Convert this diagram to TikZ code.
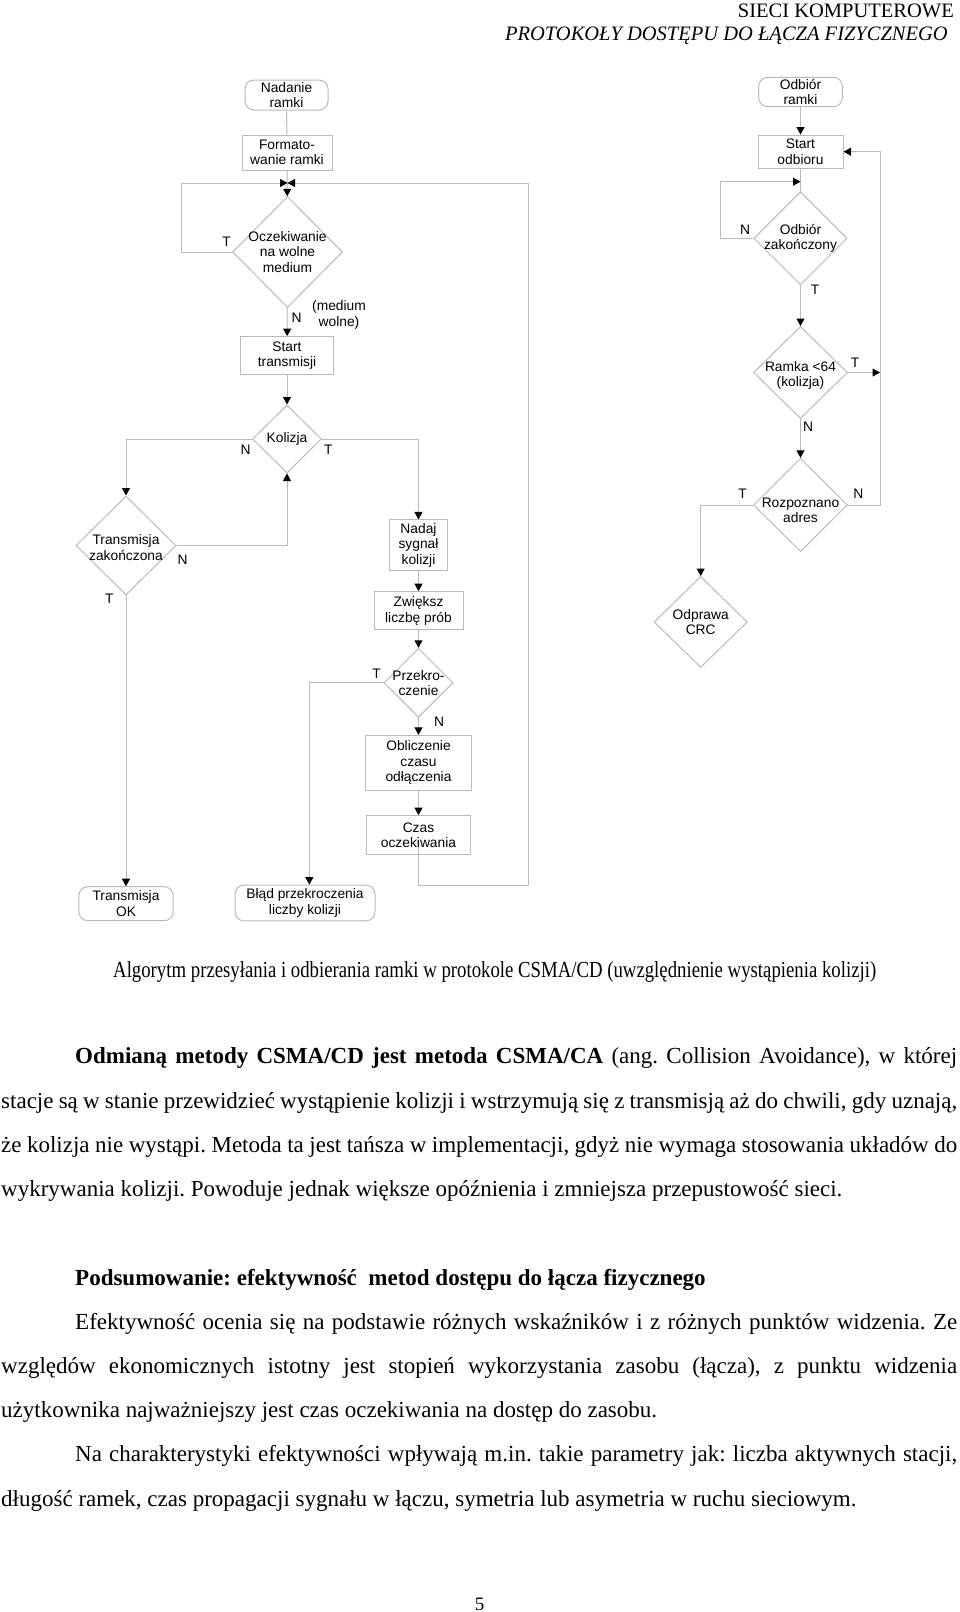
\documentclass[tikz,border=0pt]{standalone}
\usepackage{fontspec}
\usepackage{graphicx}
\setmainfont{Liberation Serif}
\newfontfamily\flowfont{Liberation Sans}
\usetikzlibrary{shapes.geometric,arrows.meta}
\definecolor{lgray}{RGB}{185,185,185}
\frenchspacing
\newcommand\flowtxt{\flowfont\fontsize{13.8}{15.3}\selectfont}
\newcommand\bodytxt{\fontsize{23}{27}\selectfont}
\newsavebox\fitbx
\newcommand\fitw[2]{\sbox\fitbx{#2}\pgfmathsetmacro\fitsc{#1/\the\wd\fitbx}\scalebox{\fitsc}[1]{\usebox\fitbx}}
\tikzset{
  line/.style={draw=lgray, line width=1pt},
  arr/.style={line, -{Triangle[length=7.5pt,width=8pt,color=black]}},
  proc/.style={draw=lgray, line width=1pt, rectangle, inner sep=0pt, font=\flowtxt, align=center},
  term/.style={proc, rounded corners=9pt},
  dec/.style={draw=lgray, line width=1pt, diamond, inner sep=0pt},
  ftxt/.style={font=\flowtxt, align=center, inner sep=0pt},
  lab/.style={font=\flowtxt, inner sep=0pt},
  body/.style={anchor=base west, inner sep=0pt, font=\bodytxt},
}
\begin{document}
\begin{tikzpicture}[x=1pt,y=-1pt]
\useasboundingbox (0,0) rectangle (960,1612);

% header
\node[anchor=base east, inner sep=0pt, font=\fontsize{20.5}{24}\selectfont] (h1) at (954,17.5) {SIECI KOMPUTEROWE};
\node[anchor=base east, inner sep=0pt, font=\fontsize{20.5}{24}\selectfont\itshape] (h2) at (948,40) {PROTOKOŁY DOSTĘPU DO ŁĄCZA FIZYCZNEGO};

% ---------------- sending side ----------------
\node[term, minimum width=83pt, minimum height=30pt] (nad) at (286.5,95) {Nadanie\\ramki};
\node[proc, minimum width=90pt, minimum height=35pt] (form) at (287,152.5) {Formato-\\wanie ramki};
\node[dec, minimum width=110pt, minimum height=111pt] (wait) at (287.5,252) {};
\node[ftxt] (waitT) at (wait) {Oczekiwanie\\na wolne\\medium};
\node[proc, minimum width=92.7pt, minimum height=38.3pt] (start) at (287,355.8) {Start\\transmisji};
\node[dec, minimum width=69pt, minimum height=68pt] (kol) at (287,439) {};
\node[ftxt] (kolT) at (kol) {Kolizja};
\node[dec, minimum width=100pt, minimum height=99pt] (tz) at (126,545.5) {};
\node[ftxt] (tzT) at (126,547.5) {Transmisja\\zakończona};
\node[term, minimum width=94.4pt, minimum height=34pt] (ok) at (126,903.7) {Transmisja\\OK};
\node[proc, minimum width=58.4pt, minimum height=50.7pt] (nadaj) at (418.5,545.3) {Nadaj\\sygnał\\kolizji};
\node[proc, minimum width=89pt, minimum height=38.3pt] (zwi) at (418.5,610.8) {Zwiększ\\liczbę prób};
\node[dec, minimum width=69pt, minimum height=69pt] (prz) at (418.5,682.8) {};
\node[ftxt] (przT) at (prz) {Przekro-\\czenie};
\node[proc, minimum width=106.4pt, minimum height=54.7pt] (obl) at (418.5,762.7) {Obliczenie\\czasu\\odłączenia};
\node[proc, minimum width=104.4pt, minimum height=39.3pt] (czas) at (418.5,835.3) {Czas\\oczekiwania};
\node[term, minimum width=140pt, minimum height=35.7pt] (blad) at (305,903) {Błąd przekroczenia\\liczby kolizji};

\coordinate (j1) at (287.5,183);
\coordinate (lc1) at (181.7,183);
\coordinate (rc1) at (528.7,183);

\draw[line] (nad) -- (form);
\draw[arr] (form) -- (wait);
\draw[arr] (wait.west) -| (lc1) -- (j1);
\draw[arr] ([yshift=8pt]czas.south) -- ++(0,38.4) -| (rc1) -- (j1);
\draw[arr] (wait) -- (start);
\draw[arr] (start) -- (kol);
\draw[arr] (kol.west) -| (tz.north);
\draw[arr] (tz.east) -| (kol.south);
\draw[arr] (tz.south) -- (ok.north);
\draw[arr] (kol.east) -| (nadaj.north);
\draw[arr] (nadaj) -- (zwi);
\draw[arr] (zwi) -- (prz);
\draw[arr] (prz.west) -| ([xshift=4.3pt]blad.north);
\draw[arr] (prz) -- (obl);
\draw[arr] (obl) -- (czas);

\node[lab] (l1) at (226.7,241.7) {T};
\node[lab] (l2) at (296.7,318) {N};
\node[ftxt] (l3) at (339,315) {(medium\\wolne)};
\node[lab] (l4) at (245.7,450) {N};
\node[lab] (l5) at (328.3,450) {T};
\node[lab] (l6) at (182.7,560) {N};
\node[lab] (l7) at (109.3,598.3) {T};
\node[lab] (l8) at (376.7,673.3) {T};
\node[lab] (l9) at (439,721.7) {N};

% ---------------- receiving side ----------------
\node[term, minimum width=83.7pt, minimum height=29.4pt] (odb) at (800.5,92) {Odbiór\\ramki};
\node[proc, minimum width=85pt, minimum height=33.3pt] (sodb) at (800.5,151.7) {Start\\odbioru};
\node[dec, minimum width=93.3pt, minimum height=93.3pt] (zak) at (800.5,238.3) {};
\node[ftxt] (zakT) at (zak) {Odbiór\\zakończony};
\node[dec, minimum width=94pt, minimum height=92pt] (ram) at (800.5,372.5) {};
\node[ftxt] (ramT) at (800.5,375.5) {Ramka <64\\(kolizja)};
\node[dec, minimum width=94pt, minimum height=93.4pt] (roz) at (800.5,505) {};
\node[ftxt] (rozT) at (800.5,510) {Rozpoznano\\adres};
\node[dec, minimum width=93.3pt, minimum height=91pt] (crc) at (700.7,622) {};
\node[ftxt] (crcT) at (crc) {Odprawa\\CRC};

\coordinate (j2) at (800.5,181.7);
\coordinate (lc2) at (720.7,181.7);
\coordinate (rc2) at (880,151.7);

\draw[arr] (odb) -- (sodb);
\draw[line] (sodb) -- (zak);
\draw[arr] (zak.west) -| (lc2) -- (j2);
\draw[arr] (zak) -- (ram);
\draw[arr] (ram.east) -- (ram.east -| rc2);
\draw[arr] (roz.east) -| (rc2) -- (sodb.east);
\draw[arr] (ram) -- (roz);
\draw[arr] (roz.west) -| (crc.north);

\node[lab] (r1) at (745,230) {N};
\node[lab] (r2) at (815,290) {T};
\node[lab] (r3) at (855,363) {T};
\node[lab] (r4) at (808,426.7) {N};
\node[lab] (r5) at (742.7,493.3) {T};
\node[lab] (r6) at (858.3,493.3) {N};

% ---------------- caption and text ----------------
\node[body] (cap) at (113,977) {\fitw{763}{Algorytm przesyłania i odbierania ramki w protokole CSMA/CD (uwzględnienie wystąpienia kolizji)}};

\node[body] (p1) at (75,1063.3) {\makebox[882pt][s]{\textbf{Odmianą metody CSMA/CD jest metoda CSMA/CA} (ang. Collision Avoidance), w której}};
\node[body] (p2) at (1,1108.5) {\makebox[956pt][s]{stacje są w stanie przewidzieć wystąpienie kolizji i wstrzymują się z transmisją aż do chwili, gdy uznają,}};
\node[body] (p3) at (1,1152.5) {\makebox[956pt][s]{że kolizja nie wystąpi. Metoda ta jest tańsza w implementacji, gdyż nie wymaga stosowania układów do}};
\node[body] (p4) at (1,1196.5) {wykrywania kolizji. Powoduje jednak większe opóźnienia i zmniejsza przepustowość sieci.};

\node[body] (q0) at (75,1285) {\textbf{Podsumowanie: efektywność\ \ metod dostępu do łącza fizycznego}};
\node[body] (q1) at (75,1329) {\makebox[882pt][s]{Efektywność ocenia się na podstawie różnych wskaźników i z różnych punktów widzenia. Ze}};
\node[body] (q2) at (1,1373.5) {\makebox[956pt][s]{względów ekonomicznych istotny jest stopień wykorzystania zasobu (łącza), z punktu widzenia}};
\node[body] (q3) at (1,1417.5) {użytkownika najważniejszy jest czas oczekiwania na dostęp do zasobu.};
\node[body] (q4) at (75,1461.5) {\makebox[882pt][s]{Na charakterystyki efektywności wpływają m.in. takie parametry jak: liczba aktywnych stacji,}};
\node[body] (q5) at (1,1506) {długość ramek, czas propagacji sygnału w łączu, symetria lub asymetria w ruchu sieciowym.};

\node[anchor=base, inner sep=0pt, font=\fontsize{19}{22}\selectfont] (pg) at (479.5,1610) {5};
\end{tikzpicture}
\end{document}
